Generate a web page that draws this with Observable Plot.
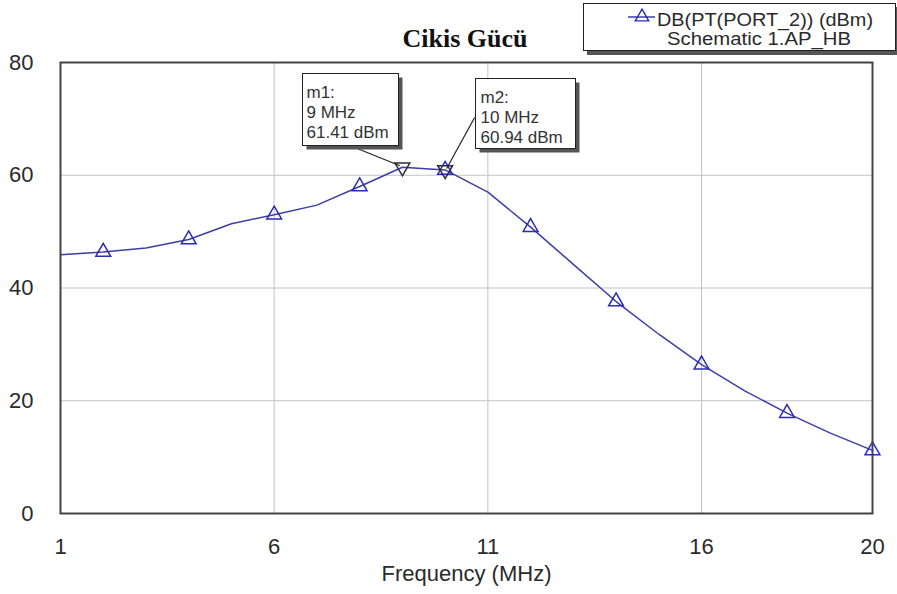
<!DOCTYPE html>
<html>
<head>
<meta charset="utf-8">
<script src="https://cdn.jsdelivr.net/npm/d3@7"></script>
<script src="https://cdn.jsdelivr.net/npm/@observablehq/plot@0.6"></script>
<style>
  html, body { margin: 0; padding: 0; background: #fff; }
  #chart { width: 897px; height: 594px; overflow: hidden; }
</style>
</head>
<body>
<div id="chart"></div>
<script>
// ---- data ----
const freq  = [1, 2, 3, 4, 5, 6, 7, 8, 9, 10, 11, 12, 13, 14, 15, 16, 17, 18, 19, 20];
const power = [45.9, 46.4, 47.1, 48.6, 51.4, 53.0, 54.7, 58.0, 61.41, 60.94, 57.0, 50.8, 44.2, 37.6, 31.8, 26.4, 21.8, 17.8, 14.3, 11.2];
const markerFreq = [2, 4, 6, 8, 10, 12, 14, 16, 18, 20];
const xTicks = [1, 6, 11, 16, 20];
const yTicks = [0, 20, 40, 60, 80];
const gridX = [6, 11, 16];
const gridY = [20, 40, 60];
const markerNames = ["m1", "m2"];
const markerF = [9, 10];
const markerP = [61.41, 60.94];
const titleText = "Cikis Gücü";
const xLabel = "Frequency (MHz)";
const legendLines = ["DB(PT(PORT_2)) (dBm)", "Schematic 1.AP_HB"];

const data = freq.map((f, i) => ({ f, p: power[i] }));
const tri = data.filter(d => markerFreq.includes(d.f));
const marks = markerNames.map((n, i) => ({ name: n, f: markerF[i], p: markerP[i] }));

const sqrt3 = Math.sqrt(3);
const triDown = {
  draw(ctx, size) {
    const y = -Math.sqrt(size / (sqrt3 * 3));
    ctx.moveTo(0, -y * 2);
    ctx.lineTo(-sqrt3 * y, y);
    ctx.lineTo(sqrt3 * y, y);
    ctx.closePath();
  }
};

const FONT = "'Liberation Sans', Arial, sans-serif";
const lineColor = "#3d3daa";
const triColor = "#2b2bb8";

const plot = Plot.plot({
  width: 897,
  height: 594,
  marginLeft: 60,
  marginRight: 25,
  marginTop: 62,
  marginBottom: 81,
  x: { domain: [1, 20] },
  y: { domain: [0, 80] },
  style: { fontFamily: FONT, fontSize: "22px", color: "#2a2a2a", background: "#fff", overflow: "visible" },
  marks: [
    Plot.ruleX(gridX, { stroke: "#c2c2c2", strokeWidth: 1 }),
    Plot.ruleY(gridY, { stroke: "#c2c2c2", strokeWidth: 1 }),
    Plot.axisX({ ticks: xTicks, tickSize: 0, tickPadding: 25, label: null, fontSize: 22, tickFormat: d => String(d) }),
    Plot.axisY({ ticks: yTicks, tickSize: 0, tickPadding: 27, label: null, fontSize: 22 }),
    Plot.line(data, { x: "f", y: "p", stroke: lineColor, strokeWidth: 1.5 }),
    Plot.dot(tri, { x: "f", y: "p", symbol: "triangle", r: 5.5, stroke: triColor, strokeWidth: 1.5, fill: "none" }),
    Plot.dot(marks, { x: "f", y: "p", symbol: triDown, r: 5.5, stroke: "#2a2a3a", strokeWidth: 1.5, fill: "none" }),
    Plot.frame({ stroke: "#444", strokeWidth: 2 }),
    Plot.text([xLabel], { frameAnchor: "bottom", dy: 67, fontSize: 22, fill: "#2a2a2a" })
  ]
});

document.getElementById("chart").appendChild(plot);

const svg = d3.select(plot);
const sx = plot.scale("x");
const sy = plot.scale("y");

// title
svg.append("text")
  .attr("transform", "translate(465,47)")
  .attr("text-anchor", "middle")
  .attr("font-family", "'Liberation Serif', 'Times New Roman', serif")
  .attr("font-weight", "bold")
  .attr("font-size", 26)
  .attr("fill", "#111")
  .text(titleText);

// legend box
const lg = svg.append("g").attr("text-anchor", "start");
lg.append("rect").attr("x", 587).attr("y", 7).attr("width", 312).attr("height", 48).attr("fill", "#555");
lg.append("rect").attr("x", 583.5).attr("y", 3.5).attr("width", 312).attr("height", 47).attr("fill", "#fff").attr("stroke", "#222").attr("stroke-width", 1);
lg.append("line").attr("x1", 628).attr("x2", 655).attr("y1", 17).attr("y2", 17).attr("stroke", lineColor).attr("stroke-width", 1.5);
lg.append("path").attr("transform", "translate(642,17)").attr("d", d3.symbol(d3.symbolTriangle, 5 * 5 * Math.PI)()).attr("fill", "none").attr("stroke", triColor).attr("stroke-width", 1.4);
lg.append("text").attr("text-anchor", "start").attr("x", 657).attr("y", 26)
  .attr("font-family", FONT).attr("font-size", 17.5).attr("textLength", 216).attr("lengthAdjust", "spacingAndGlyphs")
  .attr("fill", "#2a2a2a").text(legendLines[0]);
lg.append("text").attr("text-anchor", "start").attr("x", 667).attr("y", 45)
  .attr("font-family", FONT).attr("font-size", 17.5).attr("textLength", 184).attr("lengthAdjust", "spacingAndGlyphs")
  .attr("fill", "#2a2a2a").text(legendLines[1]);

// marker annotation boxes
const boxLayout = [
  { dx: -100, dy: -94, w: 96, h: 72, lx1: -44, ly1: -18, lx2: -2, ly2: -1, tx: 4, base: [24, 44, 64] },
  { dx: 30, dy: -91, w: 100, h: 70, lx1: 30, ly1: -52, lx2: 2, ly2: -1, tx: 5, base: [24, 44, 64] }
];
marks.forEach((m, i) => {
  const L = boxLayout[i];
  const px = sx.apply(m.f), py = sy.apply(m.p);
  const bx = Math.round(px + L.dx) + 0.5, by = Math.round(py + L.dy) + 0.5;
  const g = svg.append("g").attr("text-anchor", "start");
  g.append("line").attr("x1", px + L.lx1).attr("y1", py + L.ly1).attr("x2", px + L.lx2).attr("y2", py + L.ly2)
    .attr("stroke", "#222").attr("stroke-width", 1.2);
  g.append("rect").attr("x", bx + 4).attr("y", by + 4).attr("width", L.w).attr("height", L.h).attr("fill", "#555");
  g.append("rect").attr("x", bx).attr("y", by).attr("width", L.w).attr("height", L.h).attr("fill", "#fff").attr("stroke", "#222").attr("stroke-width", 1);
  const lines = [m.name + ":", m.f + " MHz", m.p.toFixed(2) + " dBm"];
  lines.forEach((t, k) => {
    g.append("text").attr("text-anchor", "start").attr("x", bx + L.tx).attr("y", by + L.base[k])
      .attr("font-family", FONT).attr("font-size", 17).attr("fill", "#333").text(t);
  });
});
</script>
</body>
</html>
